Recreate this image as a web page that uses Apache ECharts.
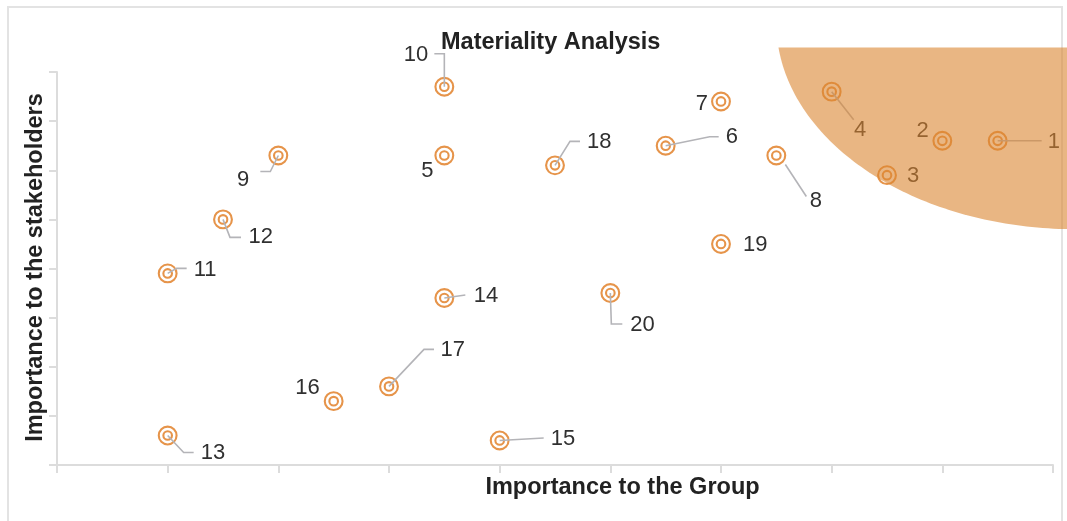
<!DOCTYPE html>
<html>
<head>
<meta charset="utf-8">
<script src="https://cdn.jsdelivr.net/npm/echarts@6/dist/echarts.min.js"></script>
<style>
  html, body { margin: 0; padding: 0; background: #ffffff; }
  #chart { width: 1067px; height: 521px; }
</style>
</head>
<body>
<div id="chart"></div>
<script>
// Material topics, scored on two axes
const topicIds = ['1', '2', '3', '4', '5', '6', '7', '8', '9', '10',
                  '11', '12', '13', '14', '15', '16', '17', '18', '19', '20'];
const groupScores = [8.5, 8.0, 7.5, 7.0, 3.5, 5.5, 6.0, 6.5, 2.0, 3.5,
                     1.0, 1.5, 1.0, 3.5, 4.0, 2.5, 3.0, 4.5, 6.0, 5.0];
const stakeholderScores = [6.6, 6.6, 5.9, 7.6, 6.3, 6.5, 7.4, 6.3, 6.3, 7.7,
                           3.9, 5.0, 0.6, 3.4, 0.5, 1.3, 1.6, 6.1, 4.5, 3.5];

// Axis ranges (ticks every unit, no tick labels)
const xTicks = [0, 1, 2, 3, 4, 5, 6, 7, 8, 9];
const yTicks = [0, 1, 2, 3, 4, 5, 6, 7, 8];

// High-materiality zone: ellipse in data units, cut off at a ceiling
const zoneCenter = [9.2, 9.0];
const zoneRadius = [2.7, 4.2];
const zoneCeiling = 8.5;

// Label placement in pixels relative to each marker: leader polyline, text anchor, alignment
const labelPlacement = {
  '1':  { line: [[0, 0], [44, 0]], text: [50, 1], align: 'left' },
  '2':  { text: [-13.5, -10], align: 'right' },
  '3':  { text: [20, 0.5], align: 'left' },
  '4':  { line: [[0, 0], [22, 28]], text: [28.5, 38.5], align: 'center' },
  '5':  { text: [-17, 15], align: 'center' },
  '6':  { line: [[0, 0], [44, -9], [53, -9]], text: [60, -8.5], align: 'left' },
  '7':  { text: [-13, 2], align: 'right' },
  '8':  { line: [[9, 9], [30, 41]], text: [39.5, 45], align: 'center' },
  '9':  { line: [[0, 0], [-8, 16], [-18, 16]], text: [-29, 24.5], align: 'right' },
  '10': { line: [[0, 0], [0, -33], [-10, -33]], text: [-16, -32], align: 'right' },
  '11': { line: [[0, 0], [9, -5], [19, -5]], text: [26, -3], align: 'left' },
  '12': { line: [[0, 0], [7, 18], [18, 18]], text: [25.5, 18], align: 'left' },
  '13': { line: [[0, 0], [16, 17], [26, 17]], text: [33, 17.5], align: 'left' },
  '14': { line: [[0, 0], [21, -3]], text: [29.5, -2], align: 'left' },
  '15': { line: [[0, 0], [44, -2.5]], text: [51, -1.5], align: 'left' },
  '16': { text: [-14, -13.5], align: 'right' },
  '17': { line: [[0, 0], [35, -37], [45, -37]], text: [51.5, -36], align: 'left' },
  '18': { line: [[0, 0], [15, -24], [25, -24]], text: [32, -23.5], align: 'left' },
  '19': { text: [22, 1], align: 'left' },
  '20': { line: [[0, 0], [1, 31], [12, 31]], text: [20, 32], align: 'left' }
};

const ringColor = '#e6944a';
const leaderColor = '#b4b4b8';
const labelColor = '#303030';
const axisColor = '#dcdcdc';
const textFont = 'Liberation Sans';

const topicData = groupScores.map((x, i) => [x, stakeholderScores[i], i]);

function renderTopic(params, api) {
  const i = api.value(2);
  const id = topicIds[i];
  const p = api.coord([api.value(0), api.value(1)]);
  const place = labelPlacement[id];
  const children = [
    { type: 'circle', shape: { cx: p[0], cy: p[1], r: 8.9 },
      style: { fill: 'none', stroke: ringColor, lineWidth: 2.1 } },
    { type: 'circle', shape: { cx: p[0], cy: p[1], r: 4.3 },
      style: { fill: 'none', stroke: ringColor, lineWidth: 2.1 } }
  ];
  if (place.line) {
    children.push({
      type: 'polyline',
      shape: { points: place.line.map(d => [p[0] + d[0], p[1] + d[1]]) },
      style: { fill: 'none', stroke: leaderColor, lineWidth: 1.6 }
    });
  }
  children.push({
    type: 'text',
    x: p[0] + place.text[0],
    y: p[1] + place.text[1],
    style: {
      text: id,
      align: place.align,
      verticalAlign: 'middle',
      fontFamily: textFont,
      fontWeight: 'normal',
      fontSize: 22,
      fill: labelColor
    }
  });
  return { type: 'group', children };
}

function renderZone(params, api) {
  const c = api.coord(zoneCenter);
  const r = api.size(zoneRadius);
  const ceilY = api.coord([zoneCenter[0], zoneCeiling])[1];
  const t0 = Math.asin(Math.min(1, (ceilY - c[1]) / r[1]));
  const t1 = Math.PI - t0;
  const steps = 160;
  const pts = [];
  for (let k = 0; k <= steps; k++) {
    const t = t1 - (t1 - t0) * k / steps;
    pts.push([c[0] + r[0] * Math.cos(t), c[1] + r[1] * Math.sin(t)]);
  }
  return {
    type: 'polygon',
    shape: { points: pts },
    style: { fill: 'rgba(218,134,48,0.6)' }
  };
}

const chart = echarts.init(document.getElementById('chart'), null, { renderer: 'canvas' });

chart.setOption({
  animation: false,
  backgroundColor: '#ffffff',
  title: {
    text: 'Materiality Analysis',
    left: 436,
    top: 26,
    textStyle: { fontFamily: textFont, fontWeight: 'bold', fontSize: 23.5, color: '#222222' }
  },
  graphic: [{
    type: 'rect',
    shape: { x: 8, y: 7, width: 1054, height: 530 },
    style: { fill: 'none', stroke: '#e3e3e3', lineWidth: 2 },
    silent: true,
    z: -10
  }],
  grid: { left: 57, right: 14, top: 72, bottom: 56 },
  xAxis: {
    type: 'value',
    min: xTicks[0],
    max: xTicks[xTicks.length - 1],
    interval: 1,
    name: 'Importance to the Group',
    nameLocation: 'middle',
    nameGap: 11,
    nameTextStyle: {
      fontFamily: textFont, fontWeight: 'bold', fontSize: 23.5, color: '#222222',
      padding: [0, 0, 0, 135]
    },
    axisLine: { show: true, lineStyle: { color: axisColor, width: 2 } },
    axisTick: { show: true, length: 8, lineStyle: { color: axisColor, width: 2 } },
    axisLabel: { show: false },
    splitLine: { show: false }
  },
  yAxis: {
    type: 'value',
    min: yTicks[0],
    max: yTicks[yTicks.length - 1],
    interval: 1,
    name: 'Importance to the stakeholders',
    nameLocation: 'middle',
    nameGap: 9,
    nameTextStyle: {
      fontFamily: textFont, fontWeight: 'bold', fontSize: 23.5, color: '#222222',
      padding: [0, 0, 0, 2]
    },
    axisLine: { show: true, lineStyle: { color: axisColor, width: 2 } },
    axisTick: { show: true, length: 8, lineStyle: { color: axisColor, width: 2 } },
    axisLabel: { show: false },
    splitLine: { show: false }
  },
  series: [
    {
      type: 'custom',
      name: 'Topics',
      coordinateSystem: 'cartesian2d',
      data: topicData,
      encode: { x: 0, y: 1 },
      renderItem: renderTopic,
      clip: false,
      z: 2
    },
    {
      type: 'custom',
      name: 'High materiality',
      coordinateSystem: 'cartesian2d',
      data: [[zoneCenter[0], zoneCenter[1]]],
      encode: { x: 0, y: 1 },
      renderItem: renderZone,
      clip: false,
      silent: true,
      z: 3
    }
  ]
});
</script>
</body>
</html>
